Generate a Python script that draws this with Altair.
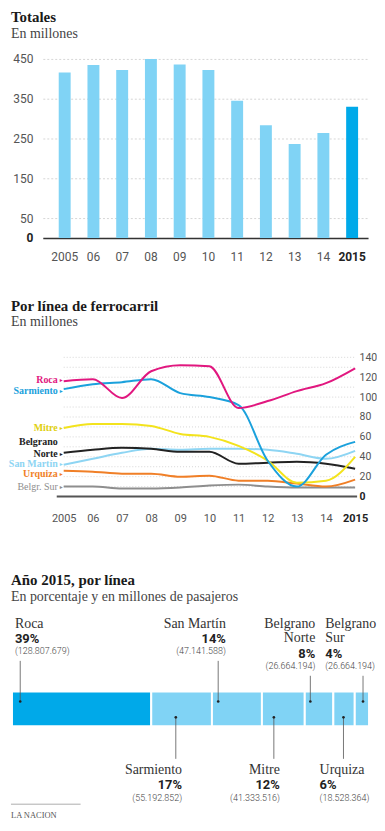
import altair as alt
import pandas as pd

# ---------------- data ----------------
year_labels = ["2005", "06", "07", "08", "09", "10", "11", "12", "13", "14", "2015"]
totales = [416, 435, 422, 450, 436, 422, 345, 283, 236, 264, 330]
ticks_totales = [0, 50, 150, 250, 350, 450]

years = [2005, 2006, 2007, 2008, 2009, 2010, 2011, 2012, 2013, 2014, 2015]
roca = [116, 118, 99, 126, 132, 131, 89, 96, 106, 114, 129]
sarmiento = [108, 113, 115, 118, 104, 100, 92, 36, 10, 42, 55]
mitre = [69, 73, 73, 71, 63, 60, 51, 36, 14, 16, 40]
belgrano_norte = [44, 47, 49, 48, 45, 45, 33, 34, 35, 33, 28]
san_martin = [32, 38, 44, 48, 47, 48, 48, 47, 43, 38, 46]
urquiza = [26, 25, 23, 23, 20, 21, 16, 16, 13, 10, 17]
belgrano_sur = [10, 10, 8, 8, 9, 11, 12, 10, 9, 9, 9]
series_names = ["Belgr. Sur", "Urquiza", "San Martín", "Belgrano Norte", "Mitre", "Sarmiento", "Roca"]
series_values = [belgrano_sur, urquiza, san_martin, belgrano_norte, mitre, sarmiento, roca]
grid_lineas = list(range(0, 141, 10))

bar_lines = ["Roca", "Sarmiento", "San Martín", "Mitre", "Belgrano Norte", "Urquiza", "Belgrano Sur"]
bar_pct = [39, 17, 14, 12, 8, 6, 4]
bar_pasajeros = ["128.807.679", "55.192.852", "47.141.588", "41.333.516",
                 "26.664.194", "18.528.364", "26.664.194"]

# ---------------- styles ----------------
SERIF = "Liberation Serif"
SANS = "Roboto"
LIGHT = "#80d3f5"
DARK = "#00a9e9"
GRID = "#d6d6d6"
line_colors = {"Roca": "#e1177f", "Sarmiento": "#1ba1dc", "Mitre": "#f3e31d",
               "Belgrano Norte": "#222222", "San Martín": "#8ed5f3",
               "Urquiza": "#f07f27", "Belgr. Sur": "#8e8e8e"}
label_colors = dict(line_colors, Mitre="#e0cf10")


def title(text, sub, dx, offset):
    return alt.TitleParams(text=text, subtitle=sub, anchor="start", frame="group", dx=dx,
                           offset=offset, font=SERIF, fontSize=15, fontWeight="bold",
                           color="#1a1a1a", subtitleFont=SERIF, subtitleFontSize=14,
                           subtitleColor="#444444", subtitlePadding=2)


def cond(test, a, b):
    return {"condition": {"test": test, "value": a}, "value": b}


# ---------------- chart 1: totals ----------------
df1 = pd.DataFrame({"anio": year_labels, "total": totales})
c1 = alt.Chart(df1).mark_bar().encode(
    x=alt.X("anio:N", sort=year_labels, title=None,
            scale=alt.Scale(paddingInner=0.585, paddingOuter=0.45, align=0.615),
            axis=alt.Axis(ticks=False, tickSize=0, domainColor="#333333", domainWidth=1.5,
                          labelAngle=0, labelFont=SANS, labelFontSize=12, labelPadding=14,
                          labelColor=cond("datum.value == '2015'", "#222222", "#555555"),
                          labelFontWeight=cond("datum.value == '2015'", "bold", "normal"))),
    y=alt.Y("total:Q", title=None, scale=alt.Scale(domain=[0, 450], nice=False),
            axis=alt.Axis(values=ticks_totales, domain=False, ticks=False, tickSize=0,
                          labelPadding=10, labelFont=SANS, labelFontSize=12,
                          labelColor=cond("datum.value == 0", "#222222", "#555555"),
                          labelFontWeight=cond("datum.value == 0", "bold", "normal"),
                          gridColor=GRID, gridDash=[2, 2])),
    color=alt.condition("datum.anio == '2015'", alt.value(DARK), alt.value(LIGHT)),
).properties(width=327, height=180, title=title("Totales", "En millones", -32, 12))

# ---------------- chart 2: lines ----------------
rows = []
for name, vals in zip(series_names, series_values):
    for y, v in zip(years, vals):
        rows.append({"linea": name, "anio": y, "valor": v})
df2 = pd.DataFrame(rows)

W2, H2 = 315, 140
X2 = alt.X("anio:Q", title=None,
           scale=alt.Scale(domain=[2005, 2015], range=[21, 314], nice=False, zero=False),
           axis=alt.Axis(values=years, format="d", grid=False, ticks=False, tickSize=0,
                         domain=False, labelOverlap=False, labelFlush=False,
                         labelExpr="datum.value == 2005 || datum.value == 2015 ? datum.label : slice(datum.label, 2)",
                         labelFont=SANS, labelFontSize=11, labelPadding=16,
                         labelColor=cond("datum.value == 2015", "#222222", "#555555"),
                         labelFontWeight=cond("datum.value == 2015", "bold", "normal")))
Y2 = alt.Y("valor:Q", title=None, scale=alt.Scale(domain=[0, 140], nice=False),
           axis=alt.Axis(orient="right", values=list(range(0, 141, 20)), domain=False,
                         ticks=False, tickSize=0, grid=False,
                         labelOverlap=False, labelFlush=False,
                         labelPadding=3, labelFont=SANS, labelFontSize=10.5,
                         labelColor=cond("datum.value == 0", "#222222", "#555555"),
                         labelFontWeight=cond("datum.value == 0", "bold", "normal")))

grid2 = alt.Chart(pd.DataFrame({"valor": grid_lineas})).mark_rule(
    color=GRID, strokeDash=[1, 2], strokeWidth=1
).encode(y=Y2, x=alt.value(21), x2=alt.value(W2))
base2 = alt.Chart(pd.DataFrame({"valor": [0]})).mark_rule(
    color="#555555", strokeWidth=2
).encode(y=Y2, x=alt.value(14), x2=alt.value(W2 + 1))
# white spacer below the axis labels (keeps the gap before the next panel)
spacer2 = alt.Chart(pd.DataFrame({"valor": [0]})).mark_rule(
    color="white", strokeWidth=1
).encode(x=alt.value(0), x2=alt.value(1), y=alt.value(H2 + 39))

lines = alt.Chart(df2).mark_line(interpolate="monotone", strokeWidth=2).encode(
    x=X2, y=Y2,
    color=alt.Color("linea:N", legend=None,
                    scale=alt.Scale(domain=series_names,
                                    range=[line_colors[n] for n in series_names])),
)

lab_layout = {"Roca": -1, "Sarmiento": 1.5, "Mitre": 0, "Belgrano Norte": 1,
              "San Martín": -1, "Urquiza": 3.5, "Belgr. Sur": 0}
layers2 = [grid2, base2, spacer2, lines]
for name in series_names:
    b = alt.Chart(df2).transform_filter(f"datum.linea == '{name}' && datum.anio == 2005")
    dy = lab_layout[name]
    col = label_colors[name]
    weight = "normal" if name == "Belgr. Sur" else "bold"
    parts = ["Belgrano", "Norte"] if name == "Belgrano Norte" else [name]
    for i, p in enumerate(reversed(parts)):
        layers2.append(b.mark_text(text=p, align="right", baseline="middle", dx=-6,
                                   dy=dy - 11.5 * i, font=SERIF, fontSize=10,
                                   fontWeight=weight, color=col).encode(x=X2, y=Y2))
    layers2.append(b.mark_text(text="▸", align="right", baseline="middle", dx=-1, dy=dy,
                               font="DejaVu Sans", fontSize=6, color=col).encode(x=X2, y=Y2))

c2 = alt.layer(*layers2).properties(
    width=W2, height=H2,
    title=title("Por línea de ferrocarril", "En millones", -32, 23))

# ---------------- chart 3: stacked share ----------------
W3, H3 = 328, 35
PX_PER_100 = 359
df3 = pd.DataFrame({"linea": bar_lines, "pct": bar_pct, "pas": bar_pasajeros,
                    "orden": list(range(len(bar_lines)))})
SC3 = alt.Scale(domain=[0, 100], range=[-31, 328], nice=False, zero=False)
X3 = alt.X("x0:Q", scale=SC3, axis=None, stack=None)
base3 = alt.Chart(df3).transform_stack(
    stack="pct", groupby=[], as_=["x0", "x1"], sort=[alt.SortField("orden", order="ascending")]
).transform_calculate(pct_lbl="datum.pct + '%'", pas_lbl="'(' + datum.pas + ')'")

bar3 = base3.mark_bar(stroke="white", strokeWidth=2).encode(
    x=X3, x2="x1:Q", y=alt.value(0), y2=alt.value(H3),
    color=alt.condition("datum.linea == 'Roca'", alt.value(DARK), alt.value(LIGHT)),
)

# per-label annotation layout (pixels from segment start)
ann = {
    "Roca": dict(side="top", lead=8.3, tx=3, align="left"),
    "Sarmiento": dict(side="bottom", lead=24.7, tx=31, align="right"),
    "San Martín": dict(side="top", lead=6.3, tx=14, align="right"),
    "Mitre": dict(side="bottom", lead=12, tx=18, align="right"),
    "Belgrano Norte": dict(side="top", lead=5.6, tx=10.6, align="right"),
    "Urquiza": dict(side="bottom", lead=10.2, tx=-13.8, align="left"),
    "Belgrano Sur": dict(side="top", lead=8.3, tx=-29.7, align="left"),
}
XL = alt.X("xl:Q", scale=SC3, axis=None, stack=None)
layers3 = [bar3]
for name in bar_lines:
    a = ann[name]
    b = base3.transform_filter(f"datum.linea == '{name}'").transform_calculate(
        xl=f"datum.x0 + {a['lead'] * 100 / PX_PER_100}")
    parts = name.split(" ") if name.startswith("Belgrano") else [name]
    if a["side"] == "top":
        name_dys = [-68.3 + 15 * i for i in range(len(parts))]
        pct_dy = name_dys[-1] + 16
        num_dy = pct_dy + 12
        r1, r2, dot = num_dy + 9.5, 10, 10
    else:
        name_dys = [H3 + 44 + 15 * i for i in range(len(parts))]
        pct_dy = name_dys[-1] + 14.7
        num_dy = pct_dy + 13
        r1, r2, dot = H3 - 9, H3 + 32.7, H3 - 9
    for p, d in zip(parts, name_dys):
        layers3.append(b.mark_text(text=p, align=a["align"], baseline="middle", dx=a["tx"], dy=d,
                                   font=SERIF, fontSize=14, color="#333333")
                       .encode(x=X3, y=alt.value(0)))
    layers3.append(b.mark_text(align=a["align"], baseline="middle", dx=a["tx"], dy=pct_dy,
                               font=SANS, fontSize=13, fontWeight="bold", color="#222222")
                   .encode(x=X3, y=alt.value(0), text="pct_lbl:N"))
    layers3.append(b.mark_text(align=a["align"], baseline="middle", dx=a["tx"], dy=num_dy,
                               font=SANS, fontSize=9, fontWeight=300, color="#444444")
                   .encode(x=X3, y=alt.value(0), text="pas_lbl:N"))
    layers3.append(b.mark_rule(color="#555555", strokeWidth=0.8)
                   .encode(x=XL, y=alt.value(r1), y2=alt.value(r2)))
    layers3.append(b.mark_circle(size=7, color="#222222", opacity=1)
                   .encode(x=XL, y=alt.value(dot)))

src = pd.DataFrame({"fuente": ["LA NACION"]})
layers3.append(alt.Chart(src).mark_rule(color="#999999", strokeWidth=0.8)
               .encode(x=alt.value(-32), x2=alt.value(38), y=alt.value(113.3)))
layers3.append(alt.Chart(src).mark_text(align="left", baseline="middle", font=SERIF,
                                        fontSize=8.5, color="#555555")
               .encode(x=alt.value(-32), y=alt.value(123.7), text="fuente:N"))

c3 = alt.layer(*layers3).properties(
    width=W3, height=H3,
    title=title("Año 2015, por línea", "En porcentaje y en millones de pasajeros", -32, 13))

chart = alt.vconcat(c1, c2, c3, spacing=36).properties(
    padding={"left": 0, "top": 0, "right": 0, "bottom": 0},
    background="white",
).configure_view(stroke=None)

chart.save("out.html", embed_options={"renderer": "svg", "actions": False})
